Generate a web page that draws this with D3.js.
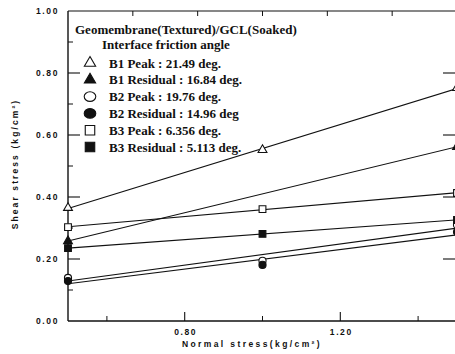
<!DOCTYPE html>
<html>
<head>
<meta charset="utf-8">
<script src="https://cdn.jsdelivr.net/npm/d3@7"></script>
<style>
  html, body { margin: 0; padding: 0; background: #fff; }
  svg { display: block; }
  .tick-label { font-family: "Liberation Sans", Arial, sans-serif; font-weight: bold; font-size: 8.5px; letter-spacing: 1.6px; fill: #111; }
  .axis-title { font-family: "Liberation Sans", Arial, sans-serif; font-weight: bold; font-size: 8.5px; fill: #111; }
  .legend-text { font-family: "Liberation Serif", "Times New Roman", serif; font-weight: bold; font-size: 13px; fill: #111; }
</style>
</head>
<body>
<svg id="chart" width="455" height="354"></svg>
<script>
// Normal stress levels of the direct shear tests (kg/cm²)
const normalStress = [0.5, 1.0, 1.5];

// Measured shear stress (kg/cm²) at each normal stress; null = no reading
const b1Peak     = [0.365, 0.552, 0.752];
const b1Residual = [0.258, null,  0.562];
const b2Peak     = [0.139, 0.194, 0.310];
const b2Residual = [0.129, 0.181, 0.287];
const b3Peak     = [0.303, 0.361, 0.413];
const b3Residual = [0.235, 0.281, 0.326];

const seriesNames  = ["B1 Peak", "B1 Residual", "B2 Peak", "B2 Residual", "B3 Peak", "B3 Residual"];
const legendLabels = ["B1 Peak : 21.49 deg.", "B1 Residual : 16.84 deg.", "B2 Peak : 19.76 deg.",
                      "B2 Residual : 14.96 deg", "B3 Peak : 6.356 deg.", "B3 Residual : 5.113 deg."];
const legendTitle  = ["Geomembrane(Textured)/GCL(Soaked)", "Interface friction angle"];

const xTickValues = [0.8, 1.2];
const xTickLabels = ["0.80", "1.20"];
const yTickValues = [0, 0.2, 0.4, 0.6, 0.8, 1.0];
const yTickLabels = ["0.00", "0.20", "0.40", "0.60", "0.80", "1.00"];

const xTitle = "Normal stress(kg/cm²)";
const yTitle = "Shear stress (kg/cm²)";

// ---------------------------------------------------------------
const svg = d3.select("#chart");
const plotL = 68, plotR = 457, plotT = 11, plotB = 321;

const x = d3.scaleLinear().domain([0.5, 1.5]).range([plotL, plotR]);
const y = d3.scaleLinear().domain([0, 1.0]).range([plotB, plotT]);

const allSeries = [b1Peak, b1Residual, b2Peak, b2Residual, b3Peak, b3Residual];
const shapes = ["triangle", "triangle", "circle", "circle", "square", "square"];
const filled = [false, true, false, true, false, true];

// Frame lines
const frame = svg.append("g").attr("stroke", "#111").attr("fill", "none");
frame.append("line").attr("x1", plotL).attr("x2", plotL).attr("y1", plotT).attr("y2", plotB).attr("stroke-width", 1.4);
frame.append("line").attr("x1", plotL).attr("x2", plotR).attr("y1", plotB).attr("y2", plotB).attr("stroke-width", 1.4);
frame.append("line").attr("x1", plotL).attr("x2", plotR).attr("y1", plotT).attr("y2", plotT).attr("stroke-width", 1.2);
frame.append("line").attr("x1", plotR).attr("x2", plotR).attr("y1", plotT).attr("y2", plotB).attr("stroke-width", 1.2);

// Left axis ticks (inward), major every 0.2 and minor every 0.1
const yMinor = d3.range(0.1, 1.0, 0.2);
frame.selectAll(".ymaj").data(yTickValues.filter(v => v > 0 && v < 1)).join("line")
  .attr("x1", plotL).attr("x2", plotL + 12).attr("y1", d => y(d)).attr("y2", d => y(d)).attr("stroke-width", 1.1);
frame.selectAll(".ymin").data(yMinor).join("line")
  .attr("x1", plotL).attr("x2", plotL + 5).attr("y1", d => y(d)).attr("y2", d => y(d)).attr("stroke-width", 1);
// Right axis ticks (inward)
frame.selectAll(".yr").data(yTickValues.filter(v => v > 0 && v < 1)).join("line")
  .attr("x1", plotR - 14).attr("x2", plotR).attr("y1", d => y(d)).attr("y2", d => y(d)).attr("stroke-width", 1.1);

// Bottom axis ticks: major labelled, minor in between
const xMinor = [0.6, 1.0, 1.4];
frame.selectAll(".xmaj").data(xTickValues).join("line")
  .attr("x1", d => x(d)).attr("x2", d => x(d)).attr("y1", plotB).attr("y2", plotB - 9).attr("stroke-width", 1.1);
frame.selectAll(".xmin").data(xMinor).join("line")
  .attr("x1", d => x(d)).attr("x2", d => x(d)).attr("y1", plotB).attr("y2", plotB - 5).attr("stroke-width", 1);
// Top axis ticks split the width into sixths
const topTicks = d3.range(1, 6).map(i => 0.5 + i / 6);
frame.selectAll(".xt").data(topTicks).join("line")
  .attr("x1", d => x(d)).attr("x2", d => x(d)).attr("y1", plotT).attr("y2", plotT + 5).attr("stroke-width", 1);

// Tick labels
svg.selectAll(".ylab").data(yTickValues).join("text")
  .attr("class", "tick-label").attr("x", 59).attr("y", d => y(d) + 3)
  .attr("text-anchor", "end").text((d, i) => yTickLabels[i]);
svg.selectAll(".xlab").data(xTickValues).join("text")
  .attr("class", "tick-label").attr("x", d => x(d) + 1).attr("y", 335)
  .attr("text-anchor", "middle").text((d, i) => xTickLabels[i]);

// Axis titles
svg.append("text").attr("class", "axis-title")
  .attr("x", 252).attr("y", 347).attr("text-anchor", "middle")
  .attr("letter-spacing", "2.4px").text(xTitle);
svg.append("text").attr("class", "axis-title")
  .attr("transform", "translate(18,164) rotate(-90)").attr("text-anchor", "middle")
  .attr("letter-spacing", "2.1px").text(yTitle);

// Least-squares line for each series, drawn across the tested range
function fit(vals) {
  const pts = normalStress.map((s, i) => [s, vals[i]]).filter(p => p[1] != null);
  const mx = d3.mean(pts, p => p[0]), my = d3.mean(pts, p => p[1]);
  const sxy = d3.sum(pts, p => (p[0] - mx) * (p[1] - my));
  const sxx = d3.sum(pts, p => (p[0] - mx) ** 2);
  const b = sxy / sxx;
  return s => my + b * (s - mx);
}
const xExtent = d3.extent(normalStress);
const lines = svg.append("g");
allSeries.forEach(vals => {
  const f = fit(vals);
  lines.append("line")
    .attr("x1", x(xExtent[0])).attr("y1", y(f(xExtent[0])))
    .attr("x2", x(xExtent[1])).attr("y2", y(f(xExtent[1])))
    .attr("stroke", "#111").attr("stroke-width", 1.1);
});

// Data markers
function symbolFor(shape, size) {
  const t = shape === "triangle" ? d3.symbolTriangle : shape === "circle" ? d3.symbolCircle : d3.symbolSquare;
  return d3.symbol().type(t).size(size)();
}
const markerSize = { triangle: 34, circle: 40, square: 46 };
const markers = svg.append("g");
allSeries.forEach((vals, k) => {
  markers.selectAll(null)
    .data(normalStress.map((s, i) => [s, vals[i]]).filter(p => p[1] != null))
    .join("path")
    .attr("transform", d => `translate(${x(d[0])},${y(d[1])})`)
    .attr("d", symbolFor(shapes[k], markerSize[shapes[k]]))
    .attr("fill", filled[k] ? "#111" : "#fff")
    .attr("stroke", "#111").attr("stroke-width", 1.1);
});

// Legend
const lg = svg.append("g");
lg.append("text").attr("class", "legend-text").attr("x", 75).attr("y", 34).text(legendTitle[0]);
lg.append("text").attr("class", "legend-text").attr("x", 102).attr("y", 49).text(legendTitle[1]);
const rowY = i => 63 + i * 16.8;
seriesNames.forEach((name, i) => {
  const g = lg.append("g").attr("transform", `translate(90,${rowY(i)})`);
  const col = filled[i] ? "#111" : "#fff";
  if (shapes[i] === "circle") {
    g.append("ellipse").attr("rx", 5.8).attr("ry", 4.8).attr("fill", col).attr("stroke", "#111").attr("stroke-width", 1.1);
  } else {
    g.append("path").attr("d", symbolFor(shapes[i], shapes[i] === "triangle" ? 55 : 90))
      .attr("fill", col).attr("stroke", "#111").attr("stroke-width", 1.1);
  }
  lg.append("text").attr("class", "legend-text").attr("x", 109).attr("y", rowY(i) + 4.5).text(legendLabels[i]);
});
</script>
</body>
</html>
